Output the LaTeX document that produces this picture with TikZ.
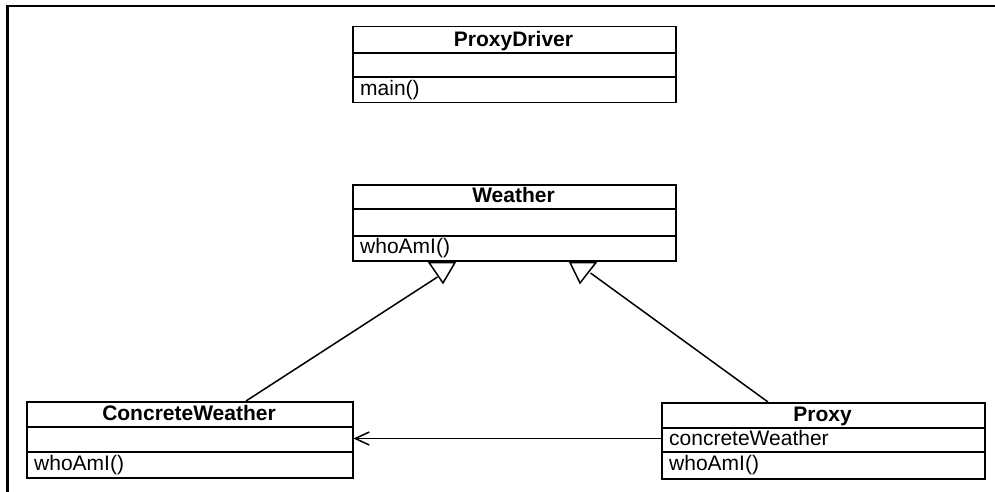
\documentclass[tikz,border=0pt]{standalone}
\usepackage{fontspec}
\setmainfont{Liberation Sans}
\usetikzlibrary{arrows.meta}
\begin{document}
\begin{tikzpicture}[x=1pt,y=-1pt,
  box/.style={draw, line width=1.5pt, minimum width=323pt, minimum height=76pt, inner sep=0pt, anchor=north west},
  ttl/.style={font=\fontsize{21}{25}\selectfont\bfseries, inner sep=0pt, anchor=base},
  txt/.style={font=\fontsize{21}{25}\selectfont, inner sep=0pt, anchor=base west},
  div/.style={line width=1.5pt},
  conn/.style={line width=1.5pt},
  frame/.style={line width=2.6pt}]
\useasboundingbox (0,0) rectangle (995,492);
\fill[white] (0,0) rectangle (995,492);
% frame
\coordinate (fb) at (7.5,492);
\coordinate (fc) at (7.5,6.2);
\coordinate (fr) at (995,6.2);
\draw[frame, line width=3pt] (fb) -- (fc);
\draw[frame, line width=2.4pt] (6,6.2) -- (fr);

% ProxyDriver
\node[box] (pd) at (352,26) {};
\draw[div] (352,53) -- (675,53);
\draw[div] (352,77) -- (675,77);
\node[ttl] (pdt) at (513.5,46.5) {ProxyDriver};
\node[txt] (pdm) at (360,95.5) {main()};

% Weather
\node[box] (w) at (352,184) {};
\draw[div] (352,209) -- (675,209);
\draw[div] (352,236) -- (675,236);
\node[ttl] (wt) at (513.5,202.5) {Weather};
\node[txt] (wm) at (360,253.5) {whoAmI()};

% ConcreteWeather
\node[box, minimum width=326pt] (cw) at (26,401) {};
\draw[div] (26,427) -- (352,427);
\draw[div] (26,452) -- (352,452);
\node[ttl] (cwt) at (189,420.5) {ConcreteWeather};
\node[txt] (cwm) at (34,470.5) {whoAmI()};

% Proxy
\node[box] (p) at (661,402) {};
\draw[div] (661,428) -- (984,428);
\draw[div] (661,452) -- (984,452);
\node[ttl] (pt) at (822.5,421.5) {Proxy};
\node[txt] (pa) at (669,445.5) {concreteWeather};
\node[txt] (pm) at (669,470.5) {whoAmI()};

% generalization triangles (hollow)
\coordinate (t1a) at (429,262.5);
\coordinate (t1b) at (455,262.5);
\coordinate (t1c) at (443,283);
\coordinate (t1e) at (437.5,277);
\draw[conn, line join=miter, fill=white] (t1a) -- (t1b) -- (t1c) -- cycle;
\coordinate (t2a) at (570,262.5);
\coordinate (t2b) at (596,262.5);
\coordinate (t2c) at (580,283);
\coordinate (t2e) at (590.5,273);
\draw[conn, line join=miter, fill=white] (t2a) -- (t2b) -- (t2c) -- cycle;

\coordinate (cwtop) at (246,401);
\coordinate (ptop) at (768,402);
\draw[conn] (cwtop) -- (t1e);
\draw[conn] (ptop) -- (t2e);

% association
\draw[conn, -{Straight Barb[length=14pt,width=13pt,line width=1.5pt]}] (p.west |- 0,438.5) -- (cw.east |- 0,438.5);
\end{tikzpicture}
\end{document}
